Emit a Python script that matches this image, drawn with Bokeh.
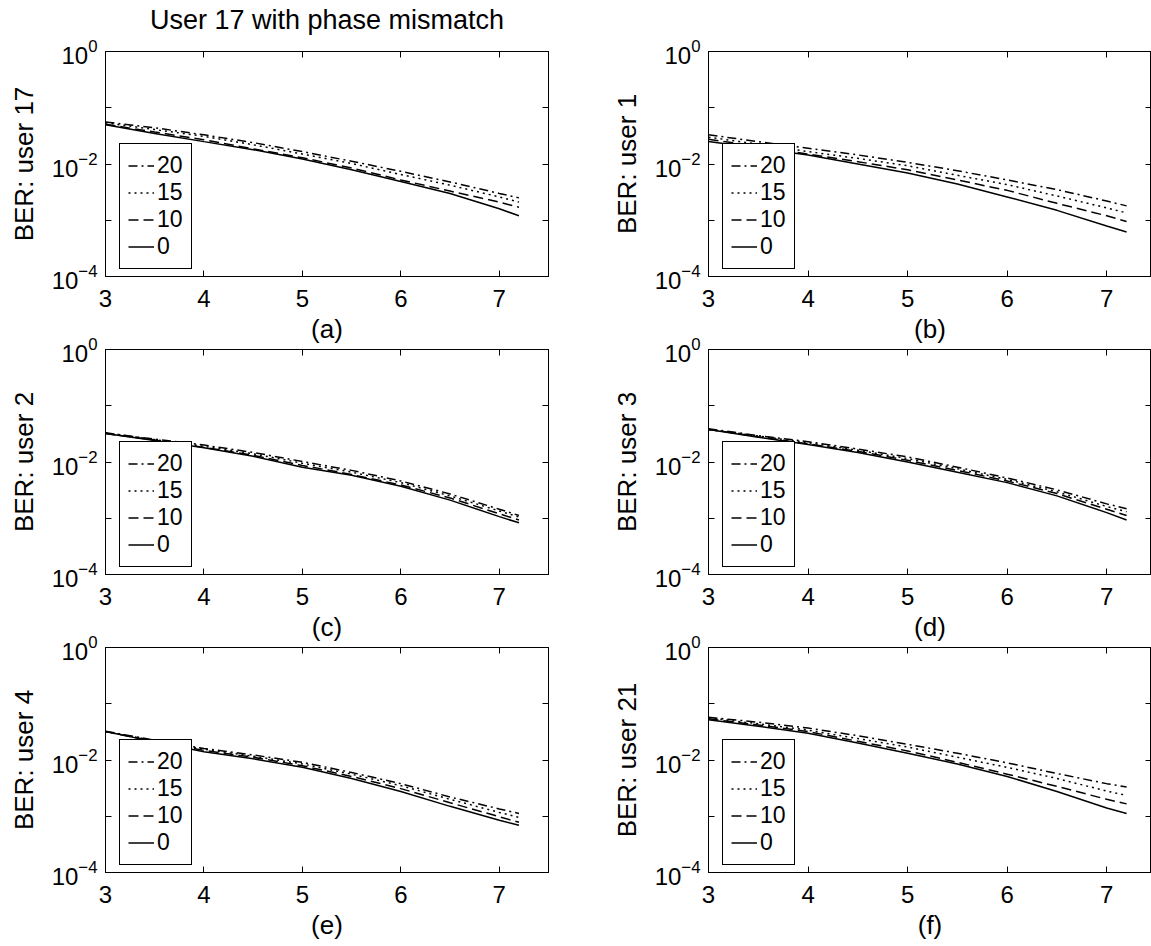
from bokeh.plotting import figure
from bokeh.models import (Range1d, FixedTicker, LinearAxis, LogAxis, Legend, LegendItem,
                          CustomJSTickFormatter)
from bokeh.layouts import column, row
from bokeh.embed import file_html
from bokeh.resources import INLINE

# ---------------- data ----------------
x = [3.0, 3.5, 4.0, 4.5, 5.0, 5.5, 6.0, 6.5, 7.0, 7.2]
phase_labels = ["20", "15", "10", "0"]
x_ticks = [3, 4, 5, 6, 7]
y_major = [1e-4, 1e-2, 1.0]
y_minor = [1e-3, 1e-1]
title_text = "User 17 with phase mismatch"
ylabels = ["BER: user 17", "BER: user 1", "BER: user 2", "BER: user 3", "BER: user 4", "BER: user 21"]
xlabels = ["(a)", "(b)", "(c)", "(d)", "(e)", "(f)"]

# (a) user 17
u17_20 = [5.6e-2, 4.4e-2, 3.3e-2, 2.4e-2, 1.66e-2, 1.12e-2, 7.4e-3, 4.8e-3, 3.0e-3, 2.5e-3]
u17_15 = [5.4e-2, 4.1e-2, 3.1e-2, 2.2e-2, 1.5e-2, 1.02e-2, 6.5e-3, 4.2e-3, 2.6e-3, 2.1e-3]
u17_10 = [5.1e-2, 3.7e-2, 2.7e-2, 1.86e-2, 1.29e-2, 8.5e-3, 5.2e-3, 3.3e-3, 2.1e-3, 1.7e-3]
u17_0 = [5.0e-2, 3.5e-2, 2.5e-2, 1.8e-2, 1.23e-2, 7.9e-3, 4.9e-3, 3.0e-3, 1.6e-3, 1.2e-3]
# (b) user 1
u1_20 = [3.3e-2, 2.5e-2, 1.9e-2, 1.45e-2, 1.07e-2, 7.6e-3, 5.2e-3, 3.5e-3, 2.2e-3, 1.8e-3]
u1_15 = [3.0e-2, 2.25e-2, 1.66e-2, 1.26e-2, 9.3e-3, 6.3e-3, 4.3e-3, 2.7e-3, 1.66e-3, 1.35e-3]
u1_10 = [2.75e-2, 2.05e-2, 1.5e-2, 1.1e-2, 7.9e-3, 5.2e-3, 3.4e-3, 2.0e-3, 1.2e-3, 9.5e-4]
u1_0 = [2.5e-2, 1.9e-2, 1.45e-2, 1.0e-2, 6.9e-3, 4.4e-3, 2.6e-3, 1.5e-3, 7.9e-4, 6.2e-4]
# (c) user 2
u2_20 = [3.3e-2, 2.55e-2, 2.0e-2, 1.48e-2, 1.02e-2, 7.1e-3, 4.6e-3, 2.7e-3, 1.45e-3, 1.12e-3]
u2_15 = [3.3e-2, 2.5e-2, 1.9e-2, 1.4e-2, 9.5e-3, 6.6e-3, 4.3e-3, 2.5e-3, 1.35e-3, 1.05e-3]
u2_10 = [3.2e-2, 2.45e-2, 1.82e-2, 1.32e-2, 8.7e-3, 6.0e-3, 3.9e-3, 2.3e-3, 1.2e-3, 9.3e-4]
u2_0 = [3.2e-2, 2.4e-2, 1.8e-2, 1.26e-2, 8.1e-3, 5.8e-3, 3.7e-3, 2.1e-3, 1.07e-3, 8.3e-4]
# (d) user 3
u3_20 = [3.9e-2, 2.95e-2, 2.3e-2, 1.7e-2, 1.23e-2, 8.1e-3, 5.2e-3, 3.2e-3, 1.8e-3, 1.48e-3]
u3_15 = [3.8e-2, 2.9e-2, 2.2e-2, 1.62e-2, 1.15e-2, 7.6e-3, 4.9e-3, 2.95e-3, 1.62e-3, 1.3e-3]
u3_10 = [3.8e-2, 2.8e-2, 2.1e-2, 1.55e-2, 1.07e-2, 7.1e-3, 4.6e-3, 2.75e-3, 1.45e-3, 1.12e-3]
u3_0 = [3.8e-2, 2.75e-2, 2.05e-2, 1.48e-2, 1.0e-2, 6.6e-3, 4.3e-3, 2.5e-3, 1.26e-3, 9.3e-4]
# (e) user 4
u4_20 = [3.25e-2, 2.25e-2, 1.6e-2, 1.23e-2, 9.1e-3, 6.0e-3, 3.8e-3, 2.2e-3, 1.35e-3, 1.12e-3]
u4_15 = [3.2e-2, 2.2e-2, 1.55e-2, 1.17e-2, 8.5e-3, 5.6e-3, 3.5e-3, 2.0e-3, 1.17e-3, 9.5e-4]
u4_10 = [3.2e-2, 2.15e-2, 1.48e-2, 1.12e-2, 7.9e-3, 5.1e-3, 3.1e-3, 1.74e-3, 9.8e-4, 7.8e-4]
u4_0 = [3.2e-2, 2.1e-2, 1.4e-2, 1.05e-2, 7.4e-3, 4.7e-3, 2.75e-3, 1.5e-3, 8.5e-4, 6.9e-4]
# (f) user 21
u21_20 = [5.75e-2, 4.7e-2, 3.7e-2, 2.7e-2, 1.9e-2, 1.32e-2, 8.9e-3, 5.75e-3, 3.8e-3, 3.3e-3]
u21_15 = [5.6e-2, 4.4e-2, 3.4e-2, 2.4e-2, 1.7e-2, 1.12e-2, 7.4e-3, 4.7e-3, 2.8e-3, 2.35e-3]
u21_10 = [5.4e-2, 4.2e-2, 3.2e-2, 2.15e-2, 1.45e-2, 9.1e-3, 5.6e-3, 3.4e-3, 2.0e-3, 1.66e-3]
u21_0 = [5.2e-2, 4.0e-2, 3.0e-2, 2.0e-2, 1.32e-2, 8.5e-3, 5.1e-3, 2.75e-3, 1.4e-3, 1.12e-3]

panel_series = [
    [u17_20, u17_15, u17_10, u17_0],
    [u1_20, u1_15, u1_10, u1_0],
    [u2_20, u2_15, u2_10, u2_0],
    [u3_20, u3_15, u3_10, u3_0],
    [u4_20, u4_15, u4_10, u4_0],
    [u21_20, u21_15, u21_10, u21_0],
]

# ---------------- styling ----------------
FONT = "Liberation Sans"
dashes = ["9 4 2 4", "2 4", "10 5", "solid"]
EMPTY = "return ''"
FRAME_H = 225
ROW_TOP = [68, 25, 25]
ROW_BOTTOM = [74, 74, 73]


def style_axis(ax, ticker, labels=True):
    ax.ticker = ticker
    ax.major_tick_in = 6
    ax.major_tick_out = 0
    ax.minor_tick_in = 6
    ax.minor_tick_out = 0
    ax.axis_line_color = "black"
    ax.major_tick_line_color = "black"
    ax.minor_tick_line_color = "black"
    ax.major_label_text_font = FONT
    ax.major_label_text_color = "black"
    ax.axis_label_text_font = FONT
    ax.axis_label_text_font_style = "normal"
    ax.axis_label_text_color = "black"
    if labels:
        ax.major_label_text_font_size = "24px"
        ax.axis_label_text_font_size = "26px"
    else:
        ax.formatter = CustomJSTickFormatter(code=EMPTY)
        ax.major_label_text_font_size = "1px"
        ax.major_label_standoff = 0


def make_panel(i):
    left_col = (i % 2 == 0)
    row_idx = i // 2
    if left_col:
        xr = Range1d(3, 7.5)
        mbl, mbr = 105, 52
    else:
        xr = Range1d(3, 7.45)
        mbl, mbr = 108, 0
    p = figure(frame_width=443, frame_height=FRAME_H, x_range=xr, y_range=Range1d(1e-4, 1.0),
               y_axis_type="log", output_backend="svg", toolbar_location=None,
               min_border_left=mbl, min_border_right=mbr, min_border_top=ROW_TOP[row_idx],
               min_border_bottom=ROW_BOTTOM[row_idx], border_fill_alpha=0,
               background_fill_color="white",
               outline_line_color="black", outline_line_width=1, outline_line_alpha=1)
    p.grid.visible = False

    style_axis(p.xaxis[0], FixedTicker(ticks=x_ticks))
    p.xaxis[0].minor_tick_line_color = None
    p.xaxis[0].major_label_standoff = 13
    p.xaxis[0].axis_label = xlabels[i]
    p.xaxis[0].axis_label_standoff = 4

    style_axis(p.yaxis[0], FixedTicker(ticks=y_major, minor_ticks=y_minor))
    p.yaxis[0].major_label_standoff = 8
    p.yaxis[0].axis_label = ylabels[i]
    p.yaxis[0].axis_label_standoff = 10

    top = LinearAxis()
    style_axis(top, FixedTicker(ticks=x_ticks), labels=False)
    top.minor_tick_line_color = None
    p.add_layout(top, "above")

    right = LogAxis()
    style_axis(right, FixedTicker(ticks=y_major, minor_ticks=y_minor), labels=False)
    p.add_layout(right, "right")

    if i == 0:
        p.title.text = title_text
        p.title.align = "center"
        p.title.text_font = FONT
        p.title.text_font_size = "27px"
        p.title.text_font_style = "normal"
        p.title.text_color = "black"
        p.title.standoff = 33

    items = []
    for lab, ys, dash in zip(phase_labels, panel_series[i], dashes):
        r = p.line(x, ys, line_color="black", line_width=1.5, line_dash=dash)
        items.append(LegendItem(label=lab, renderers=[r]))
    leg = Legend(items=items, location=(14, 7), label_text_font=FONT,
                 label_text_font_size="23px", label_text_color="black",
                 glyph_width=26, glyph_height=25, label_height=25, label_standoff=3,
                 spacing=0, padding=8, margin=0, border_line_color="black",
                 border_line_width=1, border_line_alpha=1,
                 background_fill_color="white", background_fill_alpha=1)
    p.add_layout(leg)
    return p


panels = [make_panel(i) for i in range(6)]
r1 = row(panels[0], panels[1], margin=(-17, 0, 0, 0))
r2 = row(panels[2], panels[3], margin=(-26, 0, 0, 0))
r3 = row(panels[4], panels[5], margin=(-26, 0, 0, 0))
layout = column(r1, r2, r3)

open("out.html", "w").write(file_html(layout, INLINE))
